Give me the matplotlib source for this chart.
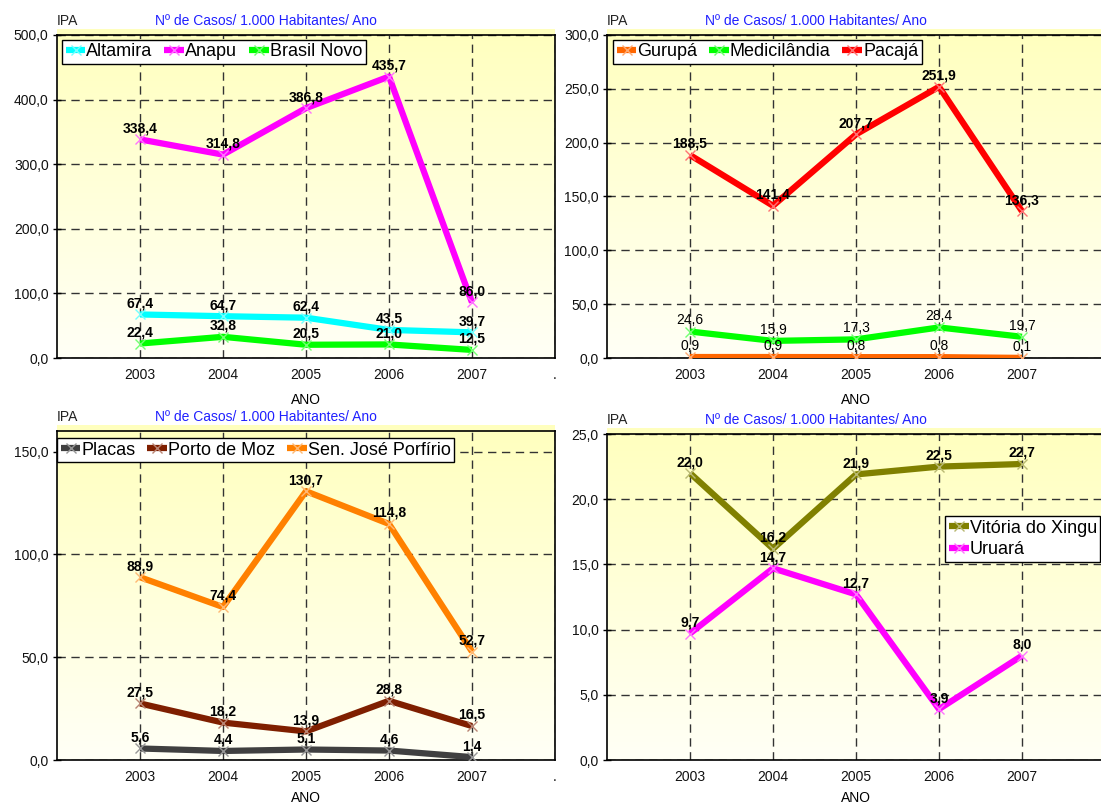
import numpy as np
import matplotlib
matplotlib.use("Agg")
import matplotlib.pyplot as plt
from matplotlib.ticker import FuncFormatter, FixedLocator
from matplotlib.colors import to_rgb

plt.rcParams["font.family"] = ["Liberation Sans", "DejaVu Sans"]

years = ["2003", "2004", "2005", "2006", "2007"]

# IPA por município (casos / 1.000 habitantes / ano)
altamira = [67.4, 64.7, 62.4, 43.5, 39.7]
anapu = [338.4, 314.8, 386.8, 435.7, 86.0]
brasil_novo = [22.4, 32.8, 20.5, 21.0, 12.5]

gurupa = [0.9, 0.9, 0.8, 0.8, 0.1]
medicilandia = [24.6, 15.9, 17.3, 28.4, 19.7]
pacaja = [188.5, 141.4, 207.7, 251.9, 136.3]

placas = [5.6, 4.4, 5.1, 4.6, 1.4]
porto_de_moz = [27.5, 18.2, 13.9, 28.8, 16.5]
sen_jose_porfirio = [88.9, 74.4, 130.7, 114.8, 52.7]

vitoria_do_xingu = [22.0, 16.2, 21.9, 22.5, 22.7]
uruara = [9.7, 14.7, 12.7, 3.9, 8.0]

W, H = 1101, 805
fig = plt.figure(figsize=(W / 100, H / 100), dpi=100)


def px_rect(x0, y0, x1, y1):
    return [x0 / W, (H - y1) / H, (x1 - x0) / W, (y1 - y0) / H]


def lighten(c, f=0.5):
    r, g, b = to_rgb(c)
    return (r + (1 - r) * f, g + (1 - g) * f, b + (1 - b) * f)


grad_top = np.array([255, 255, 190]) / 255
grad_bot = np.array([255, 255, 246]) / 255
t = np.linspace(0, 1, 256)[:, None]
gradient = (grad_top * (1 - t) + grad_bot * t)[:, None, :]

fmt = FuncFormatter(lambda v, p: f"{v:.1f}".replace(".", ","))


def panel(box, ymax, ystep, series, legend_kw, right_dot=True, xlabel_pad=8):
    x0, y0, x1, y1 = box
    # yellow gradient behind the plot area, a little taller than it
    bg = fig.add_axes(px_rect(x0, y0 - 6, x1, y1))
    bg.imshow(gradient, extent=[0, 1, 0, 1], aspect="auto")
    bg.axis("off")
    bg.set_zorder(0)

    ax = fig.add_axes(px_rect(x0, y0, x1, y1))
    ax.set_zorder(1)
    ax.patch.set_alpha(0)
    x = np.arange(len(years))
    for name, vals, color, bold in series:
        ax.plot(x, vals, color=color, lw=4.5, marker="x", ms=7, mew=1,
                mec=lighten(color, 0.45), solid_capstyle="butt", label=name,
                zorder=3)
        for xi, v in zip(x, vals):
            ax.annotate(f"{v:.1f}".replace(".", ","), (xi, v), xytext=(0, 8),
                        textcoords="offset points", ha="center", va="center",
                        fontsize=10, fontweight="bold" if bold else "normal",
                        color="black", zorder=4)
    ax.set_xlim(-1, 5)
    ax.set_ylim(0, ymax)
    ax.xaxis.set_major_locator(FixedLocator(range(6)))
    ax.set_xticklabels(years + (["."] if right_dot else [""]))
    ax.yaxis.set_major_locator(FixedLocator(np.arange(0, ymax + 0.01, ystep)))
    ax.yaxis.set_major_formatter(fmt)
    ax.tick_params(axis="x", length=0, pad=7, labelsize=10, labelcolor="#111111")
    ax.tick_params(axis="y", direction="inout", length=6, width=1,
                   labelsize=10, labelcolor="#111111", pad=3)
    ax.grid(True, color="#333333", linestyle=(0, (6, 4)), lw=1)
    ax.set_axisbelow(True)
    for s in ax.spines.values():
        s.set_color("black")
        s.set_linewidth(1.2)
    ax.set_xlabel("ANO", fontsize=10, labelpad=xlabel_pad)
    ax.annotate("IPA", (0, 1), xycoords="axes fraction", xytext=(0, 5),
                textcoords="offset points", ha="left", va="bottom",
                fontsize=10, color="#222222")
    ax.annotate("Nº de Casos/ 1.000 Habitantes/ Ano", (0.42, 1),
                xycoords="axes fraction", xytext=(0, 5),
                textcoords="offset points", ha="center", va="bottom",
                fontsize=10, color="#2020FF")
    leg = ax.legend(fancybox=False, edgecolor="black", framealpha=1,
                    borderaxespad=0, fontsize=13, handlelength=1.1,
                    handletextpad=0.05, columnspacing=0.65, borderpad=0.2,
                    labelspacing=0.25, **legend_kw)
    leg.get_frame().set_linewidth(1)
    leg.set_zorder(5)
    return ax


panel((57, 35, 555, 358), 500, 100,
      [("Altamira", altamira, "#00FFFF", True),
       ("Anapu", anapu, "#FF00FF", True),
       ("Brasil Novo", brasil_novo, "#00FF00", True)],
      dict(loc="upper left", bbox_to_anchor=(0.01, 0.985), ncol=3))

panel((607, 35, 1105, 358), 300, 50,
      [("Gurupá", gurupa, "#FF6600", False),
       ("Medicilândia", medicilandia, "#00FF00", False),
       ("Pacajá", pacaja, "#FF0000", True)],
      dict(loc="upper left", bbox_to_anchor=(0.012, 0.985), ncol=3),
      right_dot=False)

panel((57, 431, 555, 760), 160, 50,
      [("Placas", placas, "#404040", True),
       ("Porto de Moz", porto_de_moz, "#7F1F00", True),
       ("Sen. José Porfírio", sen_jose_porfirio, "#FF8000", True)],
      dict(loc="upper left", bbox_to_anchor=(0.0, 0.979), ncol=3),
      xlabel_pad=5)

panel((607, 434, 1105, 760), 25, 5,
      [("Vitória do Xingu", vitoria_do_xingu, "#808000", True),
       ("Uruará", uruara, "#FF00FF", True)],
      dict(loc="upper left", bbox_to_anchor=(0.679, 0.748), ncol=1),
      right_dot=False, xlabel_pad=5)

fig.savefig("out.png", dpi=100)
